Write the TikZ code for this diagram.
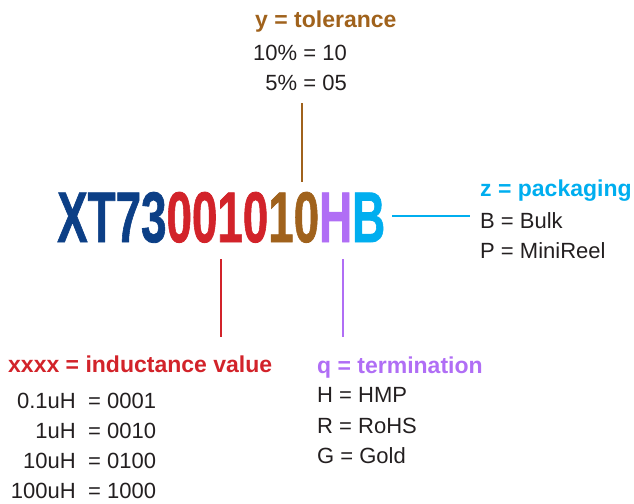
\documentclass[tikz,border=0pt]{standalone}
\usepackage{fontspec}
\setmainfont{Liberation Sans}
\newfontfamily\bigcodefont[FakeBold=1.2]{Liberation Sans Bold}
\definecolor{cblue}{HTML}{0C3F86}
\definecolor{cred}{HTML}{D2232A}
\definecolor{cbrown}{HTML}{A0621C}
\definecolor{cpurple}{HTML}{B06EF5}
\definecolor{clight}{HTML}{00AEEF}
\definecolor{ctext}{HTML}{231F20}
\tikzset{
  txt/.style={inner sep=0pt, anchor=base west, text=ctext, font=\fontsize{22}{26}\selectfont},
  txtr/.style={txt, anchor=base east},
  head/.style={inner sep=0pt, anchor=base west, font=\fontsize{23}{27}\selectfont\bfseries},
  lead/.style={line width=2pt}
}
\begin{document}
\begin{tikzpicture}[x=1pt,y=-1pt]
\useasboundingbox (0,0) rectangle (634,503);
% code
\node[inner sep=0pt, anchor=base west] (code) at (57,242)
  {\resizebox{328pt}{50pt}{\bigcodefont\fontsize{70}{70}\selectfont\textcolor{cblue}{XT73}\textcolor{cred}{0010}\textcolor{cbrown}{10}\textcolor{cpurple}{H}\textcolor{clight}{B}}};
% tolerance
\node[head, text=cbrown] (yh) at (255,28) {y = tolerance};
\node[txt] (y1) at (253,60) {10\% = 10};
\node[txtr] (y2) at (y1.base east |- 0,90) {5\% = 05};
\coordinate (yt) at (302,103);
\coordinate (yb) at (302,182);
\draw[lead, cbrown] (yt) -- (yb);
% packaging
\node[head, text=clight] (zh) at (480,196) {z = packaging};
\node[txt] (z1) at (480,228) {B = Bulk};
\node[txt] (z2) at (480,258) {P = MiniReel};
\coordinate (zl) at (392,215.5);
\coordinate (zr) at (470,215.5);
\draw[lead, clight] (zl) -- (zr);
% inductance
\node[head, text=cred] (xh) at (8,372) {xxxx = inductance value};
\node[txtr] (x1a) at (76,408) {0.1uH};
\node[txt] (x1b) at (88,408) {= 0001};
\node[txtr] (x2a) at (76,438) {1uH};
\node[txt] (x2b) at (88,438) {= 0010};
\node[txtr] (x3a) at (76,468) {10uH};
\node[txt] (x3b) at (88,468) {= 0100};
\node[txtr] (x4a) at (76,498) {100uH};
\node[txt] (x4b) at (88,498) {= 1000};
\coordinate (xt) at (220.5,259);
\coordinate (xb) at (220.5,337);
\draw[lead, cred] (xt) -- (xb);
% termination
\node[head, text=cpurple] (qh) at (317,373) {q = termination};
\node[txt] (q1) at (317,402) {H = HMP};
\node[txt] (q2) at (317,433) {R = RoHS};
\node[txt] (q3) at (317,463) {G = Gold};
\coordinate (qt) at (343,259);
\coordinate (qb) at (343,337);
\draw[lead, cpurple] (qt) -- (qb);
\end{tikzpicture}
\end{document}
